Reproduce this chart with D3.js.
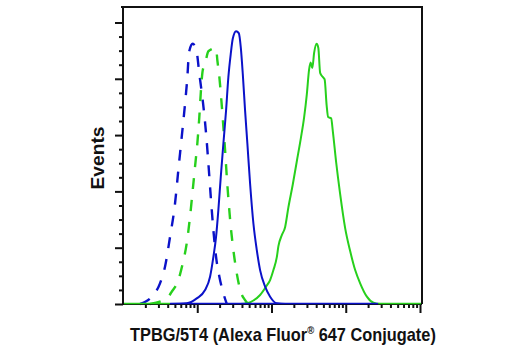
<!DOCTYPE html>
<html><head><meta charset="utf-8">
<script src="https://cdn.jsdelivr.net/npm/d3@7"></script>
<style>
html,body{margin:0;padding:0;background:#fff;}
svg{display:block;}
.lbl{font-family:"Liberation Sans Narrow","Liberation Sans",Arial,sans-serif;font-weight:bold;fill:#111;}
</style></head>
<body>
<svg id="chart" width="520" height="350"></svg>
<script>
// Fluorescence intensity (log) vs events
const blueDashX = [17, 20, 25.6, 31.5, 36.8, 43, 50.2, 55.6, 61.8, 68.5, 73.6, 77.5, 86.9, 98.4, 106.6, 118.5, 131.5, 141.3, 152.1, 164.9, 179.2, 198.6, 224.9, 250];
const blueDashY = [0, 1.6, 6.4, 14.7, 26.5, 47.7, 71.4, 95, 118.7, 142.3, 161.2, 178.9, 184.9, 178.9, 163.6, 144.7, 121.1, 99.8, 76.1, 52.5, 33.5, 19.4, 7.6, 0];

const greenDashX = [23.1, 38.8, 45.3, 55.6, 63.8, 72.1, 79.9, 86.9, 93.3, 100.2, 106.6, 111.4, 118.5, 127.4, 141.3, 179.2, 186.6, 198.6, 211.3, 224.9, 237.1, 250, 265.8, 282.8, 306.6, 340.6, 385.5, 440.6, 488.4];
const greenDashY = [0, 4.0, 8.7, 17.0, 28.9, 43.0, 61.9, 80.9, 97.4, 114.0, 132.8, 149.4, 166.0, 170.7, 179.6, 181.8, 173.0, 161.2, 144.7, 125.7, 109.2, 90.3, 71.4, 54.8, 38.3, 21.8, 8.7, 2.8, 0];

const blueSolidX = [43, 72.2, 98.4, 127.4, 148.8, 164.9, 179.2, 192.4, 207.4, 224.9, 244.5, 262.5, 282.8, 300.7, 333.3, 362.4, 385.5, 410.3, 440.6, 473.2, 514.6, 570.6, 633.9, 702.1, 820.1, 957.9, 1179, 1524, 27340];
const blueSolidY = [0, 0.5, 4.0, 9.9, 19.4, 33.5, 47.7, 66.7, 90.3, 114.0, 137.6, 161.2, 177.8, 188.4, 193.8, 192.4, 182.5, 163.6, 137.6, 114.0, 85.6, 57.2, 38.3, 24.1, 12.3, 5.2, 0.5, 0, 0];

const greenSolidX = [10, 377.4, 483.7, 570.6, 702.1, 864.4, 957.6, 1061, 1179, 1239, 1377, 1524, 1690, 1937, 2193, 2483, 2750, 2990, 3211, 3365, 3548, 3750, 4054, 4273, 4519, 4960, 5194, 5529, 5792, 6356, 6700, 7425, 8407, 9815, 11464, 13388, 15631, 19250, 23627, 29085, 100000];
const greenSolidY = [0, 0, 0.7, 2.5, 6.4, 13.1, 17.0, 24.1, 33.3, 41.1, 48.9, 54.6, 68.8, 85.1, 101.4, 117.7, 132.6, 148.9, 166.7, 171.6, 167.7, 178.4, 184.9, 181.9, 164.2, 161.0, 159.6, 141.1, 132.8, 131.9, 122.7, 100.7, 78.0, 53.9, 37.6, 24.1, 14.7, 5.2, 0.9, 0, 0];

const xDomain = [10, 100000];
const yDomain = [0, 211];
const yMajorTicks = [0, 40, 80, 120, 160, 200];
const yMinorTicks = [10, 20, 30, 50, 60, 70, 90, 100, 110, 130, 140, 150, 170, 180, 190];
const xTitle = "TPBG/5T4 (Alexa Fluor";
const xTitleSup = "®";
const xTitleEnd = " 647 Conjugate)";
const yTitle = "Events";

const BLUE = "#0b12c9", GREEN = "#27d01c";

const svg = d3.select("#chart");
const L = 123, R = 420, T = 7, B = 304, FR = 422;
const x = d3.scaleLog().domain(xDomain).range([L, R]);
const y = d3.scaleLinear().domain(yDomain).range([B, T]);

const xMajor = [100, 1000, 10000, 100000];
const xMinor = [];
for (let d = 10; d < 100000; d *= 10) for (let k = 2; k <= 9; k++) xMinor.push(d * k);

// frame
svg.append("path").attr("d", `M${L-2},${T}H${FR}V${B}`).attr("fill","none").attr("stroke","#111").attr("stroke-width",2);

// curves
const line = d3.line().x(d => x(d[0])).y(d => y(d[1])).curve(d3.curveMonotoneX);
function draw(xs, ys, color, dash) {
  svg.append("path").datum(xs.map((v,i)=>[v, ys[i]]))
    .attr("d", line).attr("fill","none").attr("stroke",color)
    .attr("stroke-width", dash ? 2.4 : 2).attr("stroke-dasharray", dash || null)
    .attr("stroke-linejoin","round");
}
draw(greenSolidX, greenSolidY, GREEN);
draw(blueDashX, blueDashY, BLUE, "11,11");
draw(greenDashX, greenDashY, GREEN, "11,11");
draw(blueSolidX, blueSolidY, BLUE);

// axes
const xAx = svg.append("g").attr("transform",`translate(0,${B})`);
xAx.call(d3.axisBottom(x).tickValues(xMajor).tickSize(9).tickFormat(""));
const xAxm = svg.append("g").attr("transform",`translate(0,${B})`);
xAxm.call(d3.axisBottom(x).tickValues(xMinor).tickSize(4).tickFormat(""));
const yAx = svg.append("g").attr("transform",`translate(${L},0)`);
yAx.call(d3.axisLeft(y).tickValues(yMajorTicks).tickSize(8).tickFormat(""));
const yAxm = svg.append("g").attr("transform",`translate(${L},0)`);
yAxm.call(d3.axisLeft(y).tickValues(yMinorTicks).tickSize(4).tickFormat(""));
svg.selectAll(".domain").remove();
svg.selectAll(".tick line").attr("stroke","#111").attr("stroke-width",2);
// axis lines
svg.append("line").attr("x1",L).attr("x2",L).attr("y1",T).attr("y2",B+1).attr("stroke","#111").attr("stroke-width",2);
svg.append("line").attr("x1",L-1).attr("x2",FR).attr("y1",B).attr("y2",B).attr("stroke","#111").attr("stroke-width",2);
// baselines of the histograms along zero
svg.append("line").attr("x1",L+1).attr("x2",x(43)).attr("y1",B-0.5).attr("y2",B-0.5).attr("stroke",GREEN).attr("stroke-width",1.5);
svg.append("line").attr("x1",x(43)).attr("x2",x(27340)).attr("y1",B-0.5).attr("y2",B-0.5).attr("stroke",BLUE).attr("stroke-width",1.5);
svg.append("line").attr("x1",x(27340)).attr("x2",FR-1).attr("y1",B-0.5).attr("y2",B-0.5).attr("stroke",GREEN).attr("stroke-width",1.5);

// titles (condensed by horizontal scaling to match the reference width)
const xtG = svg.append("g");
const xt = xtG.append("text").attr("class","lbl").attr("x",0).attr("y",0).attr("font-size",19);
xt.append("tspan").text(xTitle);
xt.append("tspan").attr("font-size",11).attr("dy",-7).text(xTitleSup);
xt.append("tspan").attr("dy",7).text(xTitleEnd);
const xw = xt.node().getComputedTextLength();
const xs = 306 / xw;
xtG.attr("transform", `translate(130,341) scale(${xs},1)`);

const ytG = svg.append("g");
const yt = ytG.append("text").attr("class","lbl").attr("text-anchor","middle").attr("font-size",19).text(yTitle);
const yw = yt.node().getComputedTextLength();
ytG.attr("transform", `translate(104,158) rotate(-90) scale(${63 / yw},1)`);
</script>
</body></html>
